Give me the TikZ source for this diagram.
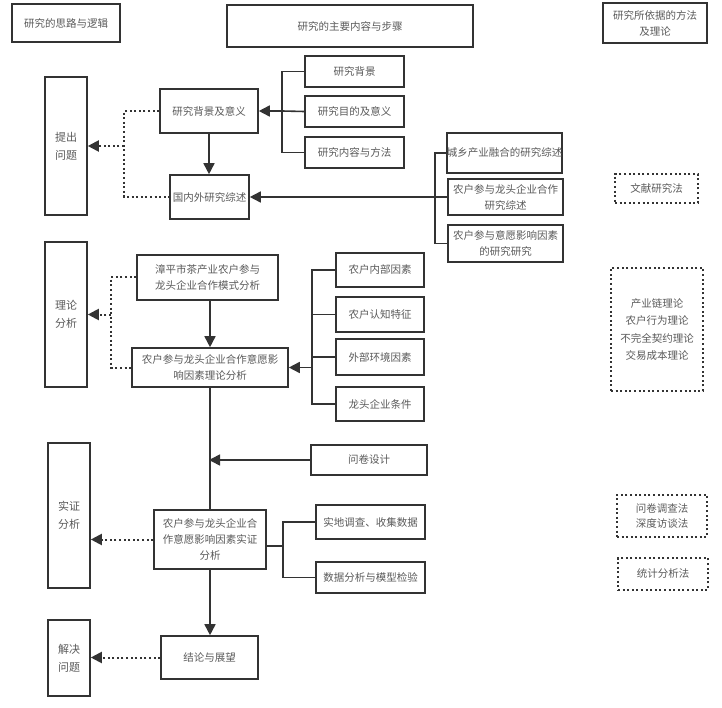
\documentclass[tikz,border=0pt]{standalone}
\usepackage{fontspec}
\newfontfamily\cjk{Noto Sans CJK SC}
\usetikzlibrary{arrows.meta}
\definecolor{lc}{HTML}{333333}
\definecolor{tc}{HTML}{5A5A5A}
\begin{document}
\begin{tikzpicture}[x=1pt,y=-1pt,
  box/.style={draw=lc, line width=1.6pt, inner sep=0pt, align=center, text=tc,
    font=\cjk\fontsize{10.5}{16}\selectfont},
  tall/.style={box, font=\cjk\fontsize{11}{18}\selectfont},
  dbox/.style={box, line width=2pt, dash pattern=on 2pt off 2.6pt},
  conn/.style={draw=lc, line width=1.6pt},
  arr/.style={conn, -{Triangle[length=11pt,width=11pt]}},
  dotl/.style={draw=lc, line width=2pt, dash pattern=on 2pt off 2.6pt},
  darr/.style={dotl, -{Triangle[length=11pt,width=11pt]}}]
\useasboundingbox (0,0) rectangle (722,708);
\fill[white] (0,0) rectangle (722,708);
% headers
\node[box, minimum width=108, minimum height=38] (logic) at (66,23) {研究的思路与逻辑};
\node[box, minimum width=246, minimum height=42] (main) at (350,26) {研究的主要内容与步骤};
\node[box, minimum width=104, minimum height=40] (meth) at (655,23) {研究所依据的方法\\及理论};
% left column
\node[tall, minimum width=42, minimum height=138] (tichu) at (66,146) {提出\\问题};
\node[tall, minimum width=42, minimum height=145] (lilun) at (66,314.5) {理论\\分析};
\node[tall, minimum width=42, minimum height=145] (shiz) at (69,515.5) {实证\\分析};
\node[tall, minimum width=42, minimum height=76] (jiej) at (69,658) {解决\\问题};
% middle column
\node[box, minimum width=98, minimum height=44] (bg) at (209,111) {研究背景及意义};
\node[box, minimum width=79, minimum height=44] (rev) at (209.5,197) {国内外研究综述};
\node[box, minimum width=141, minimum height=45] (zp) at (207.5,277.5) {漳平市茶产业农户参与\\龙头企业合作模式分析};
\node[box, minimum width=156, minimum height=39] (theo) at (210,367.5) {农户参与龙头企业合作意愿影\\响因素理论分析};
\node[box, minimum width=112, minimum height=59] (emp) at (210,539.5) {农户参与龙头企业合\\作意愿影响因素实证\\分析};
\node[box, minimum width=97, minimum height=43] (conc) at (209.5,657.5) {结论与展望};
% right sub-boxes
\node[box, minimum width=99, minimum height=31] (r1) at (354.5,71.5) {研究背景};
\node[box, minimum width=99, minimum height=31] (r2) at (354.5,111.5) {研究目的及意义};
\node[box, minimum width=99, minimum height=31] (r3) at (354.5,152.5) {研究内容与方法};
\node[box, minimum width=113, minimum height=40] (s1) at (504.5,153) {城乡产业融合的研究综述};
\node[box, minimum width=115, minimum height=36] (s2) at (505.5,197) {农户参与龙头企业合作\\研究综述};
\node[box, minimum width=115, minimum height=37] (s3) at (505.5,243.5) {农户参与意愿影响因素\\的研究研究};
\node[box, minimum width=88, minimum height=34] (f1) at (380,270) {农户内部因素};
\node[box, minimum width=88, minimum height=35] (f2) at (380,314.5) {农户认知特征};
\node[box, minimum width=88, minimum height=36] (f3) at (380,357) {外部环境因素};
\node[box, minimum width=88, minimum height=34] (f4) at (380,404) {龙头企业条件};
\node[box, minimum width=116, minimum height=30] (wj) at (369,460) {问卷设计};
\node[box, minimum width=109, minimum height=34] (d1) at (370.5,522) {实地调查、收集数据};
\node[box, minimum width=109, minimum height=31] (d2) at (370.5,577.5) {数据分析与模型检验};
% method boxes
\node[dbox, minimum width=83, minimum height=29] (m1) at (656.5,188.5) {文献研究法};
\node[dbox, minimum width=92, minimum height=123, font=\cjk\fontsize{10.5}{17.5}\selectfont] (m2) at (657,329.5) {产业链理论\\农户行为理论\\不完全契约理论\\交易成本理论};
\node[dbox, minimum width=90, minimum height=42, font=\cjk\fontsize{10.5}{15}\selectfont] (m3) at (662,516) {问卷调查法\\深度访谈法};
\node[dbox, minimum width=90, minimum height=32] (m4) at (663,574) {统计分析法};
% coordinates
\coordinate (b1t) at (282,71.5);
\coordinate (b1m) at (282,111);
\coordinate (b1b) at (282,152.5);
\coordinate (b2t) at (435,153);
\coordinate (b2m) at (435,197);
\coordinate (b2b) at (435,243.5);
\coordinate (b3t) at (312,270);
\coordinate (b3m) at (312,367.5);
\coordinate (b3b) at (312,404);
\coordinate (b4t) at (283,522);
\coordinate (b4m) at (283,546);
\coordinate (b4b) at (283,577.5);
\coordinate (q1) at (124,111);
\coordinate (q1m) at (124,146);
\coordinate (q1b) at (124,197);
\coordinate (q2) at (111,277.5);
\coordinate (q2m) at (111,314.5);
\coordinate (q2b) at (111,367.5);
\coordinate (wjj) at (209,460);
% bracket 1
\draw[conn] (r1.west) -- (b1t) -- (b1b) -- (r3.west);
\draw[conn] (r2.west) -- (b1m);
\draw[arr] (b1m) -- (bg.east);
% bracket 2
\draw[conn] (s1.west) -- (b2t) -- (b2b) -- (s3.west);
\draw[conn] (s2.west) -- (b2m);
\draw[arr] (b2m) -- (rev.east);
% bracket 3
\draw[conn] (f1.west) -- (b3t) -- (b3b) -- (f4.west);
\draw[conn] (f2.west) -- (f2.west -| b3t);
\draw[conn] (f3.west) -- (f3.west -| b3t);
\draw[arr] (b3m) -- (theo.east);
% bracket 4
\draw[conn] (d1.west) -- (b4t) -- (b4b) -- (d2.west);
\draw[conn] (emp.east |- b4m) -- (b4m);
% vertical flow
\draw[arr] (bg.south) -- (bg.south |- rev.north);
\draw[arr] (zp.south -| theo.north) -- (theo.north);
\draw[conn] (theo.south) -- (emp.north);
\draw[arr] (wj.west) -- (wjj);
\draw[arr] (emp.south) -- (emp.south |- conc.north);
% dotted links
\draw[dotl] (bg.west) -- (q1) -- (q1b) -- (rev.west);
\draw[darr] (q1m) -- (tichu.east |- q1m);
\draw[dotl] (zp.west) -- (q2) -- (q2b) -- (theo.west);
\draw[darr] (q2m) -- (lilun.east |- q2m);
\draw[darr] (emp.west) -- (emp.west -| shiz.east);
\draw[darr] (conc.west) -- (conc.west -| jiej.east);
\end{tikzpicture}
\end{document}
